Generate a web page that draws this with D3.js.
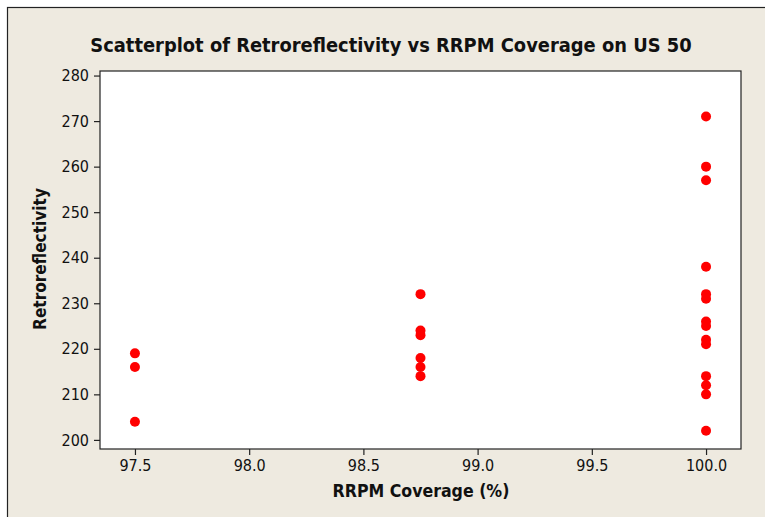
<!DOCTYPE html>
<html><head><meta charset="utf-8">
<script src="https://cdn.jsdelivr.net/npm/d3@7"></script>
<style>body{margin:0;background:#fff}svg{display:block}</style>
</head><body>
<script>
const xValues97 = [97.5, 97.5, 97.5];
const yValues97 = [219, 216, 204];
const xValues98 = [98.75, 98.75, 98.75, 98.75, 98.75, 98.75];
const yValues98 = [232, 224, 223, 218, 216, 214];
const xValues100 = [100, 100, 100, 100, 100, 100, 100, 100, 100, 100, 100, 100, 100, 100];
const yValues100 = [271, 260, 257, 238, 232, 231, 226, 225, 222, 221, 214, 212, 210, 202];
const xTicks = [97.5, 98.0, 98.5, 99.0, 99.5, 100.0];
const yTicks = [200, 210, 220, 230, 240, 250, 260, 270, 280];
const title = "Scatterplot of Retroreflectivity vs RRPM Coverage on US 50";
const xLabel = "RRPM Coverage (%)";
const yLabel = "Retroreflectivity";

const W = 765, H = 517;
const frame = {left: 100, right: 741, top: 71, bottom: 449};
const svg = d3.select("body").append("svg").attr("width", W).attr("height", H);
svg.append("rect").attr("x", 7.5).attr("y", 7.5).attr("width", W + 20).attr("height", H + 20)
  .attr("fill", "#eeeae0").attr("stroke", "#222").attr("stroke-width", 1.2);

const x = d3.scaleLinear().domain([97.347, 100.153]).range([frame.left, frame.right]);
const y = d3.scaleLinear().domain([198.0, 281.0]).range([frame.bottom, frame.top]);

svg.append("rect").attr("x", frame.left).attr("y", frame.top)
  .attr("width", frame.right - frame.left).attr("height", frame.bottom - frame.top)
  .attr("fill", "#fff").attr("stroke", "#222").attr("stroke-width", 1.2);

const font = "'DejaVu Sans Condensed', 'DejaVu Sans', sans-serif";
const yAxis = svg.append("g").attr("transform", `translate(${frame.left},0)`)
  .call(d3.axisLeft(y).tickValues(yTicks).tickSize(6).tickPadding(5).tickFormat(d3.format("d")));
const xAxis = svg.append("g").attr("transform", `translate(0,${frame.bottom})`)
  .call(d3.axisBottom(x).tickValues(xTicks).tickSize(6).tickPadding(5).tickFormat(d3.format(".1f")));
[xAxis, yAxis].forEach(a => {
  a.select(".domain").remove();
  a.selectAll(".tick line").attr("stroke", "#222").attr("stroke-width", 1.2);
  a.selectAll(".tick text").attr("fill", "#111").style("font-family", font).style("font-size", "16px");
});

const pts = [];
xValues97.forEach((v, i) => pts.push([v, yValues97[i]]));
xValues98.forEach((v, i) => pts.push([v, yValues98[i]]));
xValues100.forEach((v, i) => pts.push([v, yValues100[i]]));
svg.append("g").selectAll("circle").data(pts).join("circle")
  .attr("cx", d => x(d[0])).attr("cy", d => y(d[1])).attr("r", 5).attr("fill", "#ff0000");

function fit(t, target) {
  const len = t.node().getComputedTextLength();
  const fs = parseFloat(t.style("font-size"));
  t.style("font-size", (fs * target / len) + "px");
}
const tt = svg.append("text").attr("x", 391).attr("y", 52).attr("text-anchor", "middle")
  .style("font-family", font).style("font-weight", "bold").style("font-size", "18px")
  .attr("fill", "#111").text(title);
fit(tt, 602);
const xl = svg.append("text").attr("x", 421).attr("y", 497).attr("text-anchor", "middle")
  .style("font-family", font).style("font-weight", "bold").style("font-size", "16px")
  .attr("fill", "#111").text(xLabel);
fit(xl, 177);
const yl = svg.append("text").attr("transform", `translate(46,259) rotate(-90)`).attr("text-anchor", "middle")
  .style("font-family", font).style("font-weight", "bold").style("font-size", "16px")
  .attr("fill", "#111").text(yLabel);
fit(yl, 142);
</script>
</body></html>
